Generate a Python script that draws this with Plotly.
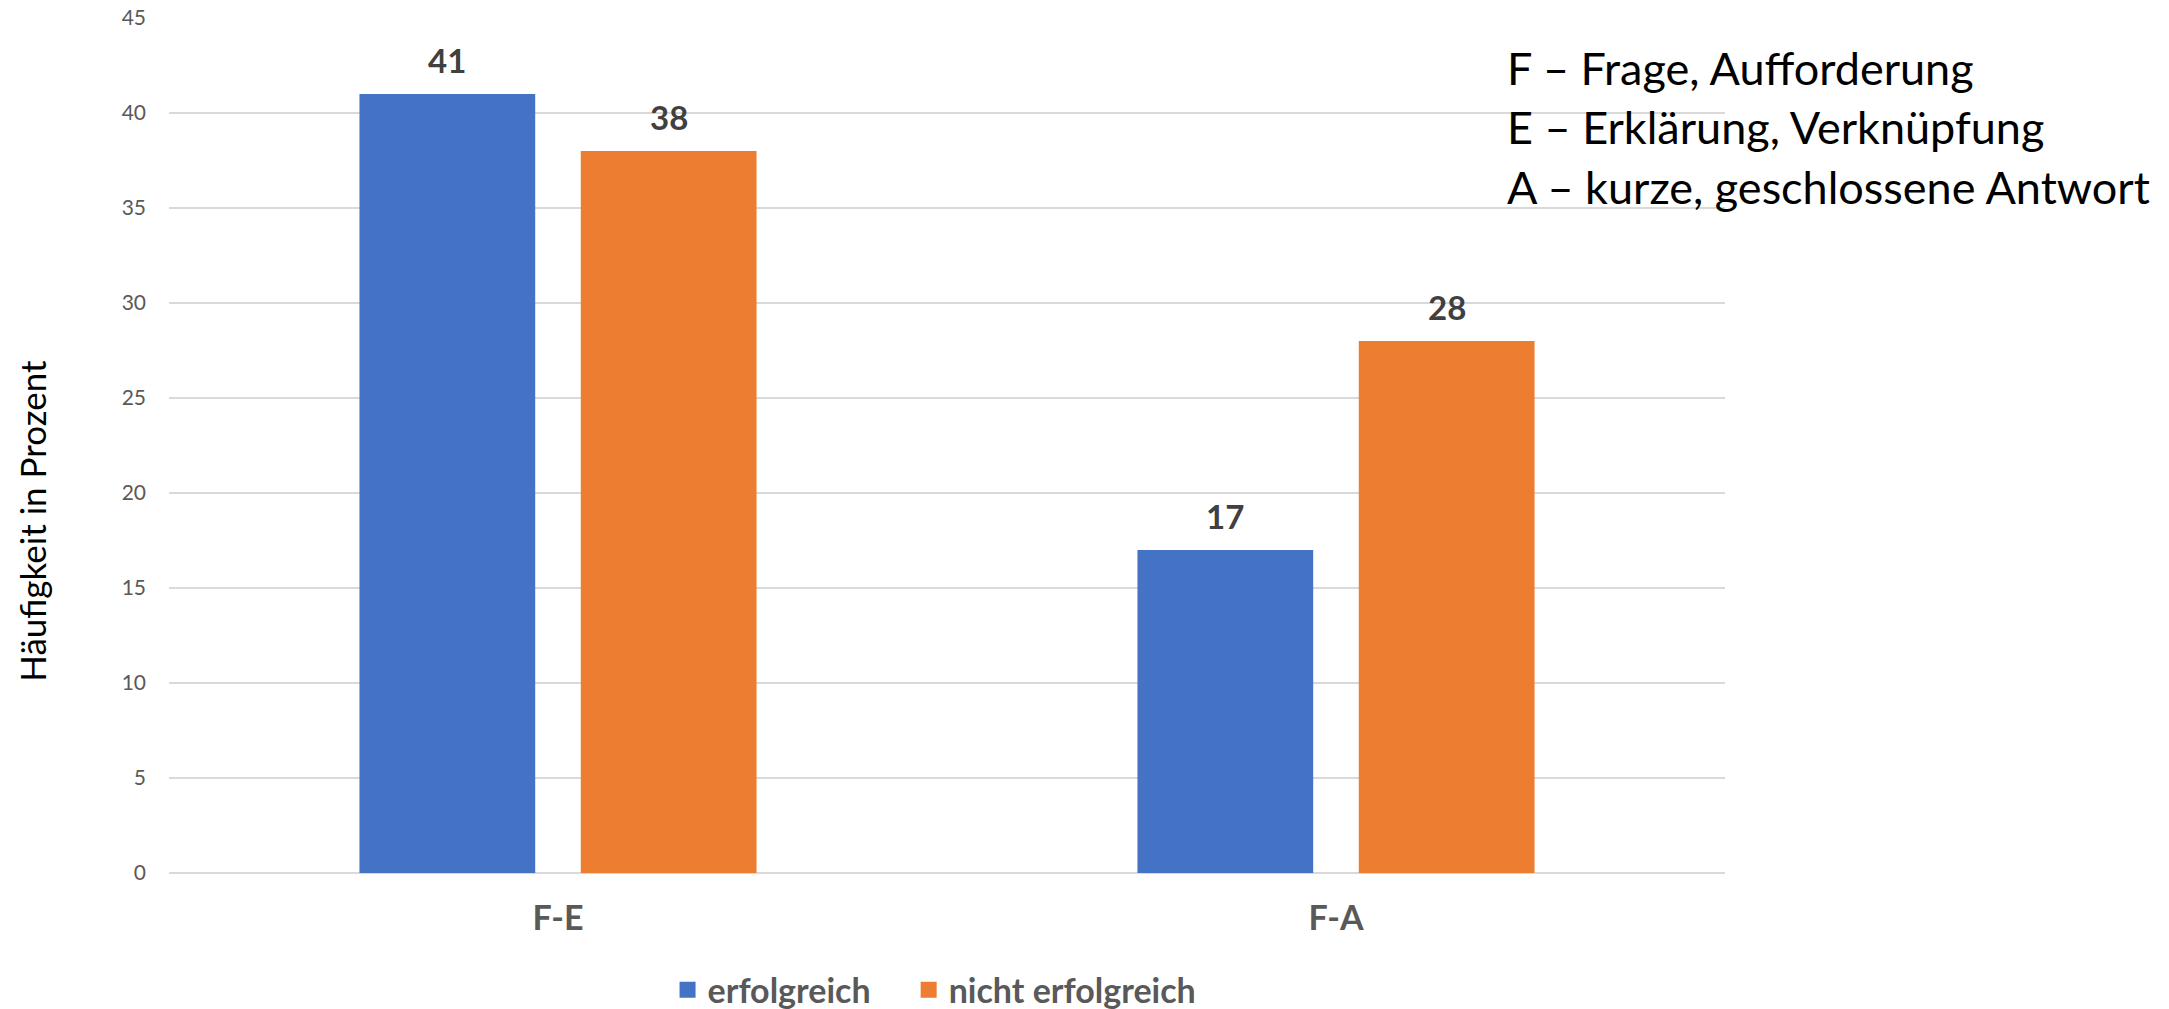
import plotly.graph_objects as go

# Kategorien und Werte (Häufigkeit in Prozent)
categories = ["F-E", "F-A"]
erfolgreich = [41, 17]
nicht_erfolgreich = [38, 28]
series_names = ["erfolgreich", "nicht erfolgreich"]
series_colors = ["#4472C4", "#ED7D31"]
y_ticks = [0, 5, 10, 15, 20, 25, 30, 35, 40, 45]

legend_lines = [
    "F – Frage, Aufforderung",
    "E – Erklärung, Verknüpfung",
    "A – kurze, geschlossene Antwort",
]

FONT = "Lato"
W, H = 2169, 1009
M_L, M_R, M_T, M_B = 169, 444, 18, 136
BARGAP = 0.431
GROUPGAP = 0.206

fig = go.Figure()
series_values = [erfolgreich, nicht_erfolgreich]
for name, vals, col in zip(series_names, series_values, series_colors):
    fig.add_trace(go.Bar(
        x=categories, y=vals, name=name, showlegend=False,
        marker=dict(color=col, line=dict(width=0)),
        hoverinfo="x+y+name",
    ))

# Legend entries with larger square swatches; non-breaking spaces widen the gap
for i, (name, col) in enumerate(zip(series_names, series_colors)):
    pad = "\u00a0" * 4 if i < len(series_names) - 1 else ""
    fig.add_trace(go.Scatter(
        x=[None], y=[None], mode="markers", name=name + pad,
        marker=dict(symbol="square", size=18, color=col),
    ))

# Value labels above each bar, placed at the bar centres of the grouped layout
plot_w = W - M_L - M_R
cat_w = plot_w / len(categories)
slot_w = cat_w * (1 - BARGAP) / len(series_values)
annotations = []
for si, vals in enumerate(series_values):
    shift = (si - (len(series_values) - 1) / 2) * slot_w
    for c, v in zip(categories, vals):
        annotations.append(dict(
            x=c, y=v, xref="x", yref="y", text=str(v), showarrow=False,
            xshift=shift, yshift=12, yanchor="bottom",
            font=dict(family=FONT, size=33, color="#404040", weight="bold"),
        ))

# Axis title
annotations.append(dict(
    x=-0.088, y=0.412, xref="paper", yref="paper", text="Häufigkeit in Prozent",
    textangle=-90, showarrow=False, xanchor="center", yanchor="middle",
    font=dict(family=FONT, size=35, color="#000000"),
))

# Abbreviation key, top right
for i, line in enumerate(legend_lines):
    annotations.append(dict(
        x=0.8586, y=1 - (68 - M_T + i * 59.5) / (H - M_T - M_B), xref="paper", yref="paper",
        text=line, showarrow=False, xanchor="left", yanchor="middle",
        font=dict(family=FONT, size=45, color="#000000"),
    ))

fig.update_layout(
    width=W, height=H,
    margin=dict(l=M_L, r=M_R, t=M_T, b=M_B, autoexpand=False),
    paper_bgcolor="white", plot_bgcolor="white",
    barmode="group", bargap=BARGAP, bargroupgap=GROUPGAP,
    font=dict(family=FONT),
    showlegend=True,
    legend=dict(
        orientation="h", x=0.492, xanchor="center", y=-0.137, yanchor="middle",
        font=dict(family=FONT, size=34, color="#595959", weight="bold"),
        itemsizing="trace",
    ),
    annotations=annotations,
    xaxis=dict(
        showgrid=False, showline=False, ticks="",
        tickfont=dict(family=FONT, size=34, color="#595959", weight="bold"),
        ticklabelstandoff=22,
    ),
    yaxis=dict(
        range=[0, 45], tickvals=y_ticks, showgrid=True,
        gridcolor="#D9D9D9", gridwidth=1.5,
        zeroline=True, zerolinecolor="#D9D9D9", zerolinewidth=1.5,
        showline=False, ticks="",
        tickfont=dict(family=FONT, size=21, color="#595959"),
        ticklabelstandoff=22,
    ),
)

fig.write_html("out.html")
